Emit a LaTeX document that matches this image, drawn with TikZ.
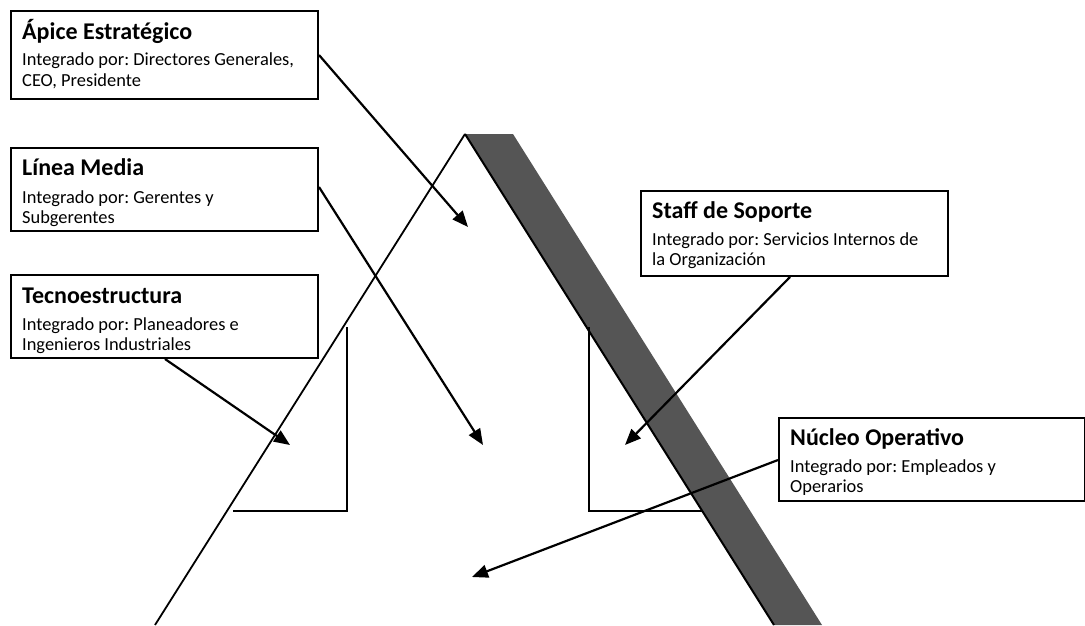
\documentclass[tikz,border=0pt]{standalone}
\usepackage{fontspec}
\setmainfont{Carlito}
\frenchspacing
\usetikzlibrary{arrows.meta}
\definecolor{bandgray}{RGB}{85,85,85}
\tikzset{
  box/.style={draw=black, line width=2pt, fill=white, anchor=north west, inner sep=0pt},
  ttl/.style={anchor=base west, inner sep=0pt, font=\fontsize{24}{28}\selectfont\bfseries},
  txt/.style={anchor=base west, inner sep=0pt, font=\fontsize{18.4}{21}\selectfont},
  arr/.style={line width=2.2pt, -{Triangle[length=16pt,width=13pt]}},
  thin/.style={line width=1.8pt},
  bracket/.style={line width=2pt}
}
\begin{document}
\begin{tikzpicture}[x=1pt,y=-1pt]
\frenchspacing
\useasboundingbox (0,0) rectangle (1085,625);
% pyramid
\coordinate (apex) at (465,134);
\coordinate (lbot) at (155,625);
\coordinate (bandtr) at (513,134);
\coordinate (bandbr) at (822,625);
\coordinate (bandbl) at (774,625);
\fill[bandgray] (apex) -- (bandtr) -- (bandbr) -- (bandbl) -- cycle;
\draw[line width=2pt] (apex) -- (bandbl);
\draw[thin] (lbot) -- (apex);
% brackets
\coordinate (lbt) at (347,327);
\coordinate (lbc) at (347,511);
\coordinate (lbl) at (233,511);
\draw[bracket] (lbt) -- (lbc) -- (lbl);
\coordinate (rbt) at (589,327);
\coordinate (rbc) at (589,511);
\coordinate (rbr) at (703,511);
\draw[bracket] (rbt) -- (rbc) -- (rbr);
% boxes
\node[box, minimum width=307pt, minimum height=88pt] (b1) at (10,10) {};
\node[ttl] (t1) at (22,39.3) {Ápice Estratégico};
\node[txt] (d1a) at (22,65.7) {Integrado por: Directores Generales,};
\node[txt] (d1b) at (22,86) {CEO, Presidente};
\node[box, minimum width=307pt, minimum height=83pt] (b2) at (10,147) {};
\node[ttl] (t2) at (22,175.5) {Línea Media};
\node[txt] (d2a) at (22,203.3) {Integrado por: Gerentes y};
\node[txt] (d2b) at (22,223) {Subgerentes};
\node[box, minimum width=307pt, minimum height=83pt] (b3) at (10,274) {};
\node[ttl] (t3) at (22,303) {Tecnoestructura};
\node[txt] (d3a) at (22,330) {Integrado por: Planeadores e};
\node[txt] (d3b) at (22,350) {Ingenieros Industriales};
\node[box, minimum width=307pt, minimum height=85pt] (b4) at (640,190) {};
\node[ttl] (t4) at (652,218.5) {Staff de Soporte};
\node[txt] (d4a) at (652,245.5) {Integrado por: Servicios Internos de};
\node[txt] (d4b) at (652,265.5) {la Organización};
\node[box, minimum width=306pt, minimum height=83pt] (b5) at (778,417) {};
\node[ttl] (t5) at (790,445.5) {Núcleo Operativo};
\node[txt] (d5a) at (790,472) {Integrado por: Empleados y};
\node[txt] (d5b) at (790,492) {Operarios};
% arrow targets
\coordinate (a1) at (468,227);
\coordinate (a2) at (483,445);
\coordinate (a3) at (290,445);
\coordinate (a4) at (625,445);
\coordinate (a5) at (472,577);
\draw[arr] (b1.east |- 0,55) -- (a1);
\draw[arr] (b2.east |- 0,187) -- (a2);
\draw[arr] (b3.south -| 165,0) -- (a3);
\draw[arr] (b4.south -| 790,0) -- (a4);
\draw[arr] (b5.west |- 0,460) -- (a5);
\end{tikzpicture}
\end{document}
